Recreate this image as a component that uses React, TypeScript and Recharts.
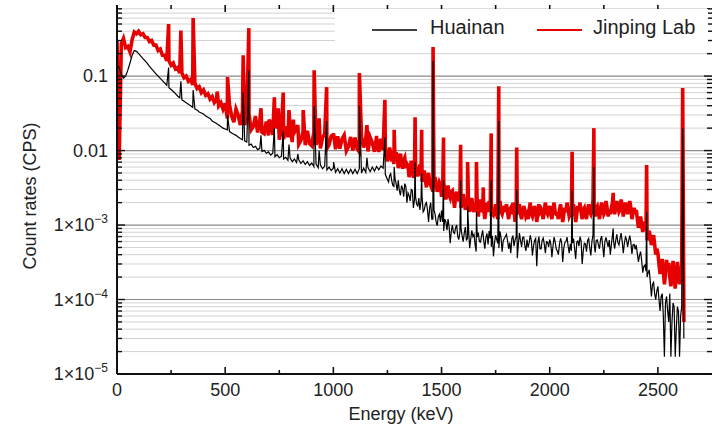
import React from 'react';
import { LineChart, Line, XAxis, YAxis, ReferenceLine, Label } from 'recharts';

// spectra sampled every 10 keV (0 … 2620 keV), count rate in CPS
const energyStep = 10;

const jinpingCounts = [
  0.30, 0.0075, 0.27, 0.32, 0.24, 0.25, 0.21, 0.31, 0.39, 0.37,
  0.40, 0.36, 0.37, 0.33, 0.33, 0.29, 0.30, 0.26, 0.26, 0.22,
  0.23, 0.19, 0.19, 0.16, 0.16, 0.14, 0.15, 0.125, 0.13, 0.11,
  0.11, 0.095, 0.10, 0.085, 0.09, 0.076, 0.08, 0.068, 0.072, 0.06,
  0.065, 0.055, 0.058, 0.049, 0.053, 0.044, 0.048, 0.04, 0.044, 0.036,
  0.043, 0.027, 0.041, 0.029, 0.024, 0.036, 0.030, 0.022, 0.034, 0.022,
  0.031, 0.031, 0.019, 0.021, 0.029, 0.0175, 0.025, 0.0176, 0.0168, 0.0246,
  0.016, 0.0234, 0.0162, 0.0235, 0.02, 0.014, 0.0211, 0.0142, 0.0212, 0.0151,
  0.0198, 0.013, 0.0176, 0.0198, 0.0121, 0.0137, 0.018, 0.0118, 0.0184, 0.0124,
  0.0116, 0.0179, 0.0119, 0.0166, 0.0107, 0.0149, 0.0168, 0.0106, 0.0119, 0.0156,
  0.0163, 0.0104, 0.0155, 0.0106, 0.0142, 0.0161, 0.0099, 0.0114, 0.0152, 0.01,
  0.0149, 0.0105, 0.0096, 0.0154, 0.011, 0.0147, 0.0097, 0.0151, 0.0127, 0.0096,
  0.015, 0.0096, 0.0144, 0.0102, 0.011, 0.0072, 0.011, 0.0072, 0.0066, 0.0094,
  0.0058, 0.0091, 0.0057, 0.008, 0.0066, 0.0044, 0.0073, 0.0043, 0.0062, 0.0045,
  0.0065, 0.0038, 0.0054, 0.0032, 0.005, 0.0034, 0.0028, 0.0044, 0.0028, 0.0037,
  0.0024, 0.0036, 0.0022, 0.0034, 0.0023, 0.0029, 0.0017, 0.0028, 0.0023, 0.0017,
  0.0026, 0.0016, 0.0023, 0.0015, 0.0023, 0.0015, 0.002, 0.0013, 0.0022, 0.0015,
  0.0012, 0.002, 0.0021, 0.0013, 0.0014, 0.0019, 0.0012, 0.0021, 0.0014, 0.0018,
  0.0019, 0.0012, 0.0017, 0.002, 0.0011, 0.0014, 0.0019, 0.0012, 0.0018, 0.0013,
  0.0012, 0.002, 0.0013, 0.0018, 0.0011, 0.0019, 0.0016, 0.0012, 0.002, 0.0014,
  0.0018, 0.0012, 0.002, 0.0014, 0.0012, 0.0019, 0.0011, 0.0017, 0.002, 0.0013,
  0.0013, 0.0019, 0.0011, 0.0018, 0.002, 0.0012, 0.0017, 0.0012, 0.0019, 0.0014,
  0.0021, 0.0013, 0.0018, 0.0012, 0.002, 0.0014, 0.0021, 0.0013, 0.0014, 0.002,
  0.0014, 0.0021, 0.0015, 0.0022, 0.0013, 0.002, 0.0014, 0.0021, 0.0012, 0.0017,
  0.0016, 0.00092, 0.0013, 0.00081, 0.0011, 0.00062, 0.00084, 0.00054, 0.00073, 0.0004,
  0.00042, 0.00022, 0.00035, 0.00016, 0.00034, 0.00031, 0.00015, 0.00033, 0.00014, 0.00032,
  0.00016, 0.0003, 0.00005,
];

const huainanCounts = [
  0.14, 0.13, 0.105, 0.094, 0.1, 0.12, 0.15, 0.19, 0.22, 0.215,
  0.2, 0.185, 0.172, 0.16, 0.148, 0.135, 0.125, 0.116, 0.107, 0.1,
  0.093, 0.087, 0.081, 0.075, 0.07, 0.066, 0.062, 0.058, 0.054, 0.051,
  0.048, 0.046, 0.044, 0.042, 0.04, 0.038, 0.036, 0.035, 0.033, 0.032,
  0.031, 0.029, 0.028, 0.027, 0.025, 0.024, 0.023, 0.022, 0.021, 0.02,
  0.0195, 0.019, 0.018, 0.0172, 0.0166, 0.016, 0.0152, 0.0145, 0.014, 0.0135,
  0.013, 0.0118, 0.0122, 0.011, 0.0114, 0.0103, 0.0107, 0.0097, 0.0101, 0.0092,
  0.0096, 0.0087, 0.0092, 0.0083, 0.0088, 0.008, 0.0084, 0.0077, 0.0081, 0.0074,
  0.0079, 0.0071, 0.0077, 0.0069, 0.0075, 0.0067, 0.0073, 0.0065, 0.0071, 0.0063,
  0.0068, 0.0061, 0.0066, 0.0059, 0.0064, 0.0057, 0.0062, 0.0055, 0.006, 0.0054,
  0.0058, 0.0051, 0.0057, 0.005, 0.0057, 0.0049, 0.0056, 0.0049, 0.0056, 0.0049,
  0.0056, 0.0049, 0.0057, 0.005, 0.0058, 0.0051, 0.0059, 0.0052, 0.006, 0.0053,
  0.0061, 0.0055, 0.0062, 0.0058, 0.0048, 0.0041, 0.0046, 0.0039, 0.0033, 0.0036,
  0.004, 0.0025, 0.0031, 0.0036, 0.002, 0.0025, 0.003, 0.0017, 0.0024, 0.0018,
  0.0016, 0.0024, 0.0016, 0.002, 0.0011, 0.002, 0.0012, 0.0014, 0.00098, 0.0014,
  0.00156, 0.00083, 0.0011, 0.0012, 0.00057, 0.001, 0.00077, 0.001, 0.00064, 0.0009,
  0.0006, 0.00094, 0.00067, 0.00049, 0.00085, 0.00075, 0.00044, 0.00079, 0.00059, 0.00085,
  0.00048, 0.00077, 0.00083, 0.00051, 0.00038, 0.00073, 0.00057, 0.00082, 0.00044, 0.00066,
  0.00075, 0.00048, 0.00042, 0.00072, 0.00063, 0.00036, 0.00078, 0.00051, 0.00069, 0.00045,
  0.0005, 0.00073, 0.00039, 0.00062, 0.00028, 0.0007, 0.00048, 0.00067, 0.00042, 0.00059,
  0.00064, 0.00037, 0.00069, 0.00048, 0.0004, 0.00066, 0.00032, 0.00058, 0.00069, 0.00042,
  0.00045, 0.00066, 0.00035, 0.00061, 0.0007, 0.0003, 0.00057, 0.00044, 0.00066, 0.00039,
  0.00074, 0.00043, 0.00063, 0.00048, 0.00071, 0.00037, 0.00068, 0.00051, 0.0004, 0.00074,
  0.00048, 0.00075, 0.00054, 0.00078, 0.00042, 0.00069, 0.00051, 0.00072, 0.00041, 0.00055,
  0.00054, 0.00032, 0.00044, 0.00023, 0.00029, 0.0002, 0.00025, 0.00011, 0.00017, 0.0001,
  0.00015, 0.00007, 0.00012, 0.000017, 0.00011, 0.00005, 0.000017, 0.00009, 0.000017, 0.00008,
  0.000017, 0.00008, 0.00003,
];

// the noisy high-energy part is also read between the 10 keV channels (1255 … 2605 keV)
const midStart = 1255;

const jinpingMidCounts = [
  0.0082, 0.0092, 0.0079, 0.0072, 0.0085,
  0.0072, 0.0068, 0.0074, 0.0058, 0.0062, 0.0055, 0.0059, 0.0051, 0.0054, 0.0052,
  0.0046, 0.0049, 0.0041, 0.0044, 0.0037, 0.0041, 0.0035, 0.0036, 0.0031, 0.0034,
  0.0028, 0.0031, 0.0027, 0.0025, 0.0028, 0.0023, 0.0025, 0.0021, 0.0024, 0.002,
  0.0021, 0.0019, 0.0018, 0.0021, 0.0017, 0.0019, 0.0016, 0.0018, 0.0017, 0.0016,
  0.0016, 0.0015, 0.0017, 0.0015, 0.0016, 0.0014, 0.0017, 0.0015, 0.0016, 0.0015,
  0.0015, 0.0016, 0.0014, 0.0016, 0.0015, 0.0016, 0.0014, 0.0015, 0.0016, 0.0014,
  0.0016, 0.0014, 0.0015, 0.0016, 0.0014, 0.0015, 0.0014, 0.0016, 0.0015, 0.0016,
  0.0014, 0.0016, 0.0015, 0.0014, 0.0016, 0.0015, 0.0014, 0.0015, 0.0016, 0.0014,
  0.0016, 0.0015, 0.0014, 0.0016, 0.0015, 0.0016, 0.0014, 0.0016, 0.0015, 0.0016,
  0.0016, 0.0017, 0.0015, 0.0016, 0.0017, 0.0015, 0.0017, 0.0016, 0.0017, 0.0016,
  0.0017, 0.0018, 0.0016, 0.0018, 0.0017, 0.0016, 0.0018, 0.0017, 0.0015, 0.0014,
  0.0012, 0.0011, 0.001, 0.00095, 0.00085, 0.00075, 0.00068, 0.00062, 0.00055, 0.00048,
  0.0003, 0.00026, 0.00024, 0.00022, 0.00025, 0.0002, 0.00023, 0.00021, 0.00024, 0.0002,
  0.00022,
];

const huainanMidCounts = [
  0.0038, 0.0049, 0.0034, 0.0042, 0.0029,
  0.0029, 0.0034, 0.0024, 0.0033, 0.0027, 0.0021, 0.0029, 0.0022, 0.0019, 0.0023,
  0.0021, 0.0015, 0.0019, 0.0016, 0.0017, 0.0012, 0.0016, 0.0011, 0.0013, 0.0011,
  0.0011, 0.0012, 0.00085, 0.00095, 0.00082, 0.0008, 0.00092, 0.0007, 0.00082, 0.00072,
  0.00078, 0.00062, 0.00088, 0.00065, 0.0007, 0.00055, 0.00069, 0.0006, 0.00072, 0.00062,
  0.00068, 0.00055, 0.00066, 0.00072, 0.00058, 0.00064, 0.00049, 0.00068, 0.00061, 0.0007,
  0.00062, 0.00058, 0.00066, 0.00052, 0.0007, 0.00055, 0.00062, 0.00068, 0.00053, 0.00064,
  0.00058, 0.00062, 0.00052, 0.00066, 0.00058, 0.00048, 0.00062, 0.00055, 0.0006, 0.00051,
  0.00056, 0.00052, 0.0006, 0.00045, 0.00055, 0.00058, 0.00049, 0.0006, 0.00052, 0.00056,
  0.00057, 0.00048, 0.00059, 0.00052, 0.00061, 0.00045, 0.00056, 0.00062, 0.00049, 0.0006,
  0.00058, 0.00062, 0.00054, 0.00064, 0.00052, 0.0006, 0.00059, 0.00063, 0.00055, 0.00061,
  0.00062, 0.00058, 0.00066, 0.0006, 0.00057, 0.00064, 0.00062, 0.00059, 0.00054, 0.00047,
  0.00041, 0.00039, 0.00033, 0.00028, 0.00024, 0.00023, 0.00017, 0.00016, 0.00012, 0.00013,
  0.0001, 0.00011, 0.00006, 0.00009, 0.00007, 0.00012, 0.00005, 0.00008, 0.00004, 0.00007,
  0.00006,
];

// gamma lines (keV) and the peak heights of each spectrum
const peakEnergies = [
  238.6, 295.2, 351.9, 463.0, 510.8, 583.2, 609.3, 665.4, 703.0, 727.3,
  745.0, 768.4, 794.9, 815.0, 835.7, 860.6, 911.2, 934.1, 969.0, 1001.0,
  1120.3, 1155.2, 1199.0, 1238.1, 1281.0, 1377.7, 1408.0, 1460.8, 1509.2, 1588.2,
  1620.5, 1661.3, 1693.0, 1729.6, 1764.5, 1847.4, 2103.5, 2204.1, 2293.4, 2447.9,
  2614.5,
];
const jinpingPeakTops = [
  0.5, 0.41, 0.6, 0.062, 0.097, 0.19, 0.44, 0.037, 0.026, 0.052,
  0.037, 0.06, 0.035, 0.026, 0.022, 0.035, 0.12, 0.027, 0.071, 0.017,
  0.11, 0.022, 0.015, 0.048, 0.019, 0.028, 0.019, 0.245, 0.015, 0.012,
  0.007, 0.007, 0.0032, 0.017, 0.073, 0.011, 0.0096, 0.02, 0.0027, 0.0064,
  0.069,
];
const huainanPeakTops = [
  0.13, 0.085, 0.065, null, 0.03, 0.06, 0.12, 0.016, null, 0.02,
  null, 0.018, 0.012, null, 0.009, null, 0.04, 0.01, 0.025, 0.007,
  0.04, 0.008, null, 0.015, 0.006, 0.007, 0.005, 0.16, 0.004, 0.004,
  0.0018, 0.0015, null, 0.004, 0.025, 0.003, 0.003, 0.006, 0.0009, 0.0015,
  0.02,
];

const decadeTicks = [1e-5, 1e-4, 1e-3, 0.01, 0.1];
const xTicks = [0, 250, 500, 750, 1000, 1250, 1500, 1750, 2000, 2250, 2500];

const PLOT_LEFT = 117;
const PLOT_RIGHT = 712;
const PLOT_TOP = 5;
const PLOT_BOTTOM = 374;
const FONT = '"Liberation Sans", Arial, sans-serif';

const minorTicks: number[] = [];
decadeTicks.forEach(d => {
  [2, 3, 4, 5, 6, 7, 8, 9].forEach(m => {
    const v = +(d * m).toPrecision(3);
    if (v < 0.9) minorTicks.push(v);
  });
});
const allYTicks = [...decadeTicks, ...minorTicks].sort((a, b) => a - b);

function buildSeries(counts: number[], midCounts: number[], tops: (number | null)[]) {
  const pts = counts.map((v, i) => ({ e: i * energyStep, v }));
  midCounts.forEach((v, i) => pts.push({ e: midStart + i * energyStep, v }));
  peakEnergies.forEach((e, i) => {
    const t = tops[i];
    if (t != null) pts.push({ e, v: t });
  });
  return pts.sort((a, b) => a.e - b.e);
}

const jinpingData = buildSeries(jinpingCounts, jinpingMidCounts, jinpingPeakTops);
const huainanData = buildSeries(huainanCounts, huainanMidCounts, huainanPeakTops);

const isDecade = (v: number) => Math.abs(Math.log10(v) - Math.round(Math.log10(v))) < 1e-6;

const YTick = (props: any) => {
  const { y, payload } = props;
  const v = payload.value;
  const major = isDecade(v);
  const len = major ? 8 : 5;
  const exp = Math.round(Math.log10(v));
  return (
    <g>
      <line x1={PLOT_LEFT} x2={PLOT_LEFT + len} y1={y} y2={y} stroke="#111" strokeWidth={1.4} />
      <line x1={PLOT_RIGHT - len} x2={PLOT_RIGHT} y1={y} y2={y} stroke="#111" strokeWidth={1.4} />
      {major && (
        <text x={PLOT_LEFT - 9} y={y + 6} textAnchor="end" fontSize={18} fill="#222" fontFamily={FONT}>
          {exp >= -2 ? (
            String(v)
          ) : (
            <>
              1×10
              <tspan dy={-8} fontSize={12}>{`−${-exp}`}</tspan>
            </>
          )}
        </text>
      )}
    </g>
  );
};

const XTick = (props: any) => {
  const { x, payload } = props;
  const v = payload.value;
  const major = v % 500 === 0;
  const len = major ? 7 : 4;
  return (
    <g>
      <line x1={x} x2={x} y1={PLOT_BOTTOM} y2={PLOT_BOTTOM - len} stroke="#111" strokeWidth={1.6} />
      <line x1={x} x2={x} y1={PLOT_TOP} y2={PLOT_TOP + len} stroke="#111" strokeWidth={1.6} />
      {major && (
        <text x={x} y={396} textAnchor="middle" fontSize={18} fill="#222" fontFamily={FONT}>
          {v}
        </text>
      )}
    </g>
  );
};

const Legendbox = () => (
  <div
    style={{
      position: 'absolute',
      left: 335,
      top: 9,
      width: 373,
      height: 37,
      background: '#fff',
      fontFamily: FONT,
      fontSize: 20,
      color: '#222',
    }}
  >
    <svg width={373} height={37} style={{ position: 'absolute', left: 0, top: 0 }}>
      <line x1={37} x2={82} y1={21} y2={21} stroke="#000" strokeWidth={1.5} />
      <line x1={202} x2={247} y1={21} y2={21} stroke="#e60000" strokeWidth={2} />
    </svg>
    <span style={{ position: 'absolute', left: 95, top: 7 }}>Huainan</span>
    <span style={{ position: 'absolute', left: 258, top: 7 }}>Jinping Lab</span>
  </div>
);

export default function App() {
  return (
    <div style={{ position: 'absolute', left: 0, top: 0, width: 715, height: 429, background: '#fff' }}>
      <LineChart width={715} height={429} margin={{ top: 5, right: 3, bottom: 0, left: 0 }}>
        <XAxis
          dataKey="e"
          type="number"
          domain={[0, 2750]}
          allowDataOverflow
          ticks={xTicks}
          interval={0}
          height={55}
          tickSize={0}
          axisLine={{ stroke: '#111', strokeWidth: 2 }}
          tick={<XTick />}
        >
          <Label
            content={() => (
              <text x={401} y={420} textAnchor="middle" fontSize={18} fill="#222" fontFamily={FONT}>
                Energy (keV)
              </text>
            )}
          />
        </XAxis>
        <XAxis
          xAxisId="top"
          orientation="top"
          type="number"
          domain={[0, 2750]}
          height={0}
          tick={false}
          tickLine={false}
          axisLine={{ stroke: '#111', strokeWidth: 2 }}
        />
        <YAxis
          scale="log"
          type="number"
          domain={[1e-5, 0.9]}
          allowDataOverflow
          ticks={allYTicks}
          interval={0}
          width={117}
          tickSize={0}
          axisLine={{ stroke: '#111', strokeWidth: 2 }}
          tick={<YTick />}
        >
          <Label
            content={() => (
              <text
                x={36}
                y={196}
                transform="rotate(-90 36 196)"
                textAnchor="middle"
                fontSize={18}
                fill="#222"
                fontFamily={FONT}
              >
                Count rates (CPS)
              </text>
            )}
          />
        </YAxis>
        <YAxis
          yAxisId="right"
          orientation="right"
          type="number"
          domain={[0, 1]}
          width={0}
          tick={false}
          tickLine={false}
          axisLine={{ stroke: '#111', strokeWidth: 2 }}
        />
        {minorTicks.map(v => (
          <ReferenceLine key={`m${v}`} y={v} stroke="#d2d2d2" strokeWidth={1} />
        ))}
        {decadeTicks.map(v => (
          <ReferenceLine key={`d${v}`} y={v} stroke="#8a8a8a" strokeWidth={1.2} />
        ))}
        <Line
          data={jinpingData}
          dataKey="v"
          type="linear"
          stroke="#e60000"
          strokeWidth={3.6}
          dot={false}
          isAnimationActive={false}
        />
        <Line
          data={huainanData}
          dataKey="v"
          type="linear"
          stroke="#000"
          strokeWidth={1.2}
          dot={false}
          isAnimationActive={false}
        />
      </LineChart>
      <Legendbox />
    </div>
  );
}
